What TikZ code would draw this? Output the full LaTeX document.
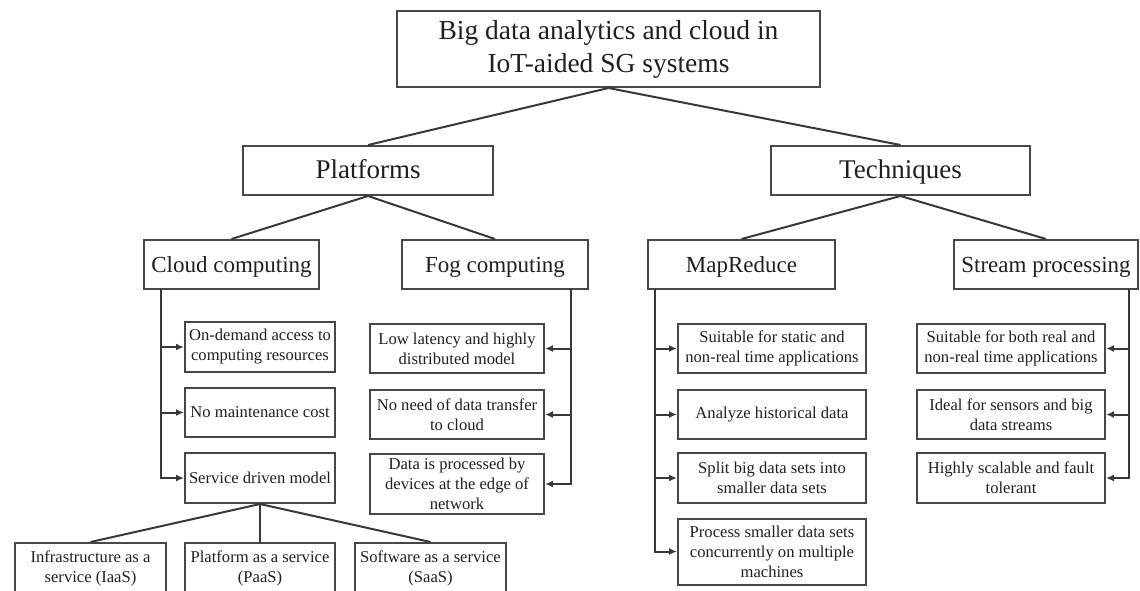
\documentclass[tikz,border=0pt]{standalone}
\usepackage{fontspec}
\setmainfont{Liberation Serif}
\usetikzlibrary{arrows.meta}

\tikzset{
	box/.style={draw=black!72, line width=2pt, inner sep=0pt, align=center, text=black!88},
	topbox/.style={box, font=\fontsize{27.5}{33}\selectfont},
	groupbox/.style={box, font=\fontsize{27}{32}\selectfont, minimum height=49pt, text height=21pt, text depth=5pt},
	kindbox/.style={box, font=\fontsize{23}{27}\selectfont, minimum height=49pt, text height=18pt, text depth=3pt},
	itembox/.style={box, font=\fontsize{16.6}{20}\selectfont},
	link/.style={draw=black!78, line width=2pt},
	feed/.style={link, -{Latex[length=8pt,width=7pt]}}
}

\begin{document}
\begin{tikzpicture}[x=1pt,y=-1pt]
		%%%%% START %%%%%
		\useasboundingbox (0,0) rectangle (1140,590);
		
		\node[topbox, minimum width=423pt, minimum height=76pt] (root) at (608.5,49) {Big data analytics and cloud in\\IoT-aided SG systems};
		
		\node[groupbox, minimum width=250pt] (plat) at (368,170.5) {Platforms};
		\node[groupbox, minimum width=259pt] (tech) at (900.5,170.5) {Techniques};
		
		\node[kindbox, minimum width=175pt] (cloud) at (231.5,264.5) {Cloud computing};
		\node[kindbox, minimum width=186pt] (fog) at (495,264.5) {Fog computing};
		\node[kindbox, minimum width=187pt] (mapr) at (741.5,264.5) {MapReduce};
		\node[kindbox, minimum width=184pt] (stream) at (1046,264.5) {Stream processing};
		
		\draw[link] (root.south) -- (plat.north);
		\draw[link] (root.south) -- (tech.north);
		\draw[link] (plat.south) -- (cloud.north);
		\draw[link] (plat.south) -- (fog.north);
		\draw[link] (tech.south) -- (mapr.north);
		\draw[link] (tech.south) -- (stream.north);
		
		% cloud computing
		\node[itembox, minimum width=150pt, minimum height=50pt] (c1) at (260,347) {On-demand access to\\computing resources};
		\node[itembox, minimum width=150pt, minimum height=49pt] (c2) at (260,412.5) {No maintenance cost};
		\node[itembox, minimum width=150pt, minimum height=50pt] (c3) at (260,478) {Service driven model};
		
		\coordinate (cbus) at (161,289);
		\draw[feed] (cbus |- c1.west) -- (c1.west);
		\draw[feed] (cbus |- c2.west) -- (c2.west);
		\draw[feed] (cbus) |- (c3.west);
		
		\node[itembox, minimum width=151pt, minimum height=50pt] (b1) at (90.5,568) {Infrastructure as a\\service (IaaS)};
		\node[itembox, minimum width=150pt, minimum height=50pt] (b2) at (260,568) {Platform as a service\\(PaaS)};
		\node[itembox, minimum width=151pt, minimum height=50pt] (b3) at (430.5,568) {Software as a service\\(SaaS)};
		
		\draw[link] (c3.south) -- (b1.north);
		\draw[link] (c3.south) -- (b2.north);
		\draw[link] (c3.south) -- (b3.north);
		
		% fog computing
		\node[itembox, minimum width=174pt, minimum height=49pt] (f1) at (457,348.5) {Low latency and highly\\distributed model};
		\node[itembox, minimum width=174pt, minimum height=49pt] (f2) at (457,414.5) {No need of data transfer\\to cloud};
		\node[itembox, minimum width=174pt, minimum height=60pt] (f3) at (457,484) {Data is processed by\\devices at the edge of\\network};
		
		\coordinate (fbus) at (571,289);
		\draw[feed] (fbus |- f1.east) -- (f1.east);
		\draw[feed] (fbus |- f2.east) -- (f2.east);
		\draw[feed] (fbus) |- (f3.east);
		
		% mapreduce
		\node[itembox, minimum width=188pt, minimum height=49pt] (m1) at (772,348.5) {Suitable for static and\\non-real time applications};
		\node[itembox, minimum width=188pt, minimum height=49pt] (m2) at (772,414.5) {Analyze historical data};
		\node[itembox, minimum width=188pt, minimum height=50pt] (m3) at (772,478) {Split big data sets into\\smaller data sets};
		\node[itembox, minimum width=188pt, minimum height=66pt] (m4) at (772,551.5) {Process smaller data sets\\concurrently on multiple\\machines};
		
		\coordinate (mbus) at (655,289);
		\draw[feed] (mbus |- m1.west) -- (m1.west);
		\draw[feed] (mbus |- m2.west) -- (m2.west);
		\draw[feed] (mbus |- m3.west) -- (m3.west);
		\draw[feed] (mbus) |- (m4.west);
		
		% stream processing
		\node[itembox, minimum width=188pt, minimum height=49pt] (s1) at (1011,348.5) {Suitable for both real and\\non-real time applications};
		\node[itembox, minimum width=188pt, minimum height=49pt] (s2) at (1011,414.5) {Ideal for sensors and big\\data streams};
		\node[itembox, minimum width=188pt, minimum height=50pt] (s3) at (1011,478) {Highly scalable and fault\\tolerant};
		
		\coordinate (sbus) at (1129,289);
		\draw[feed] (sbus |- s1.east) -- (s1.east);
		\draw[feed] (sbus |- s2.east) -- (s2.east);
		\draw[feed] (sbus) |- (s3.east);
		
		%%%%% END %%%%%
\end{tikzpicture}
\end{document}
